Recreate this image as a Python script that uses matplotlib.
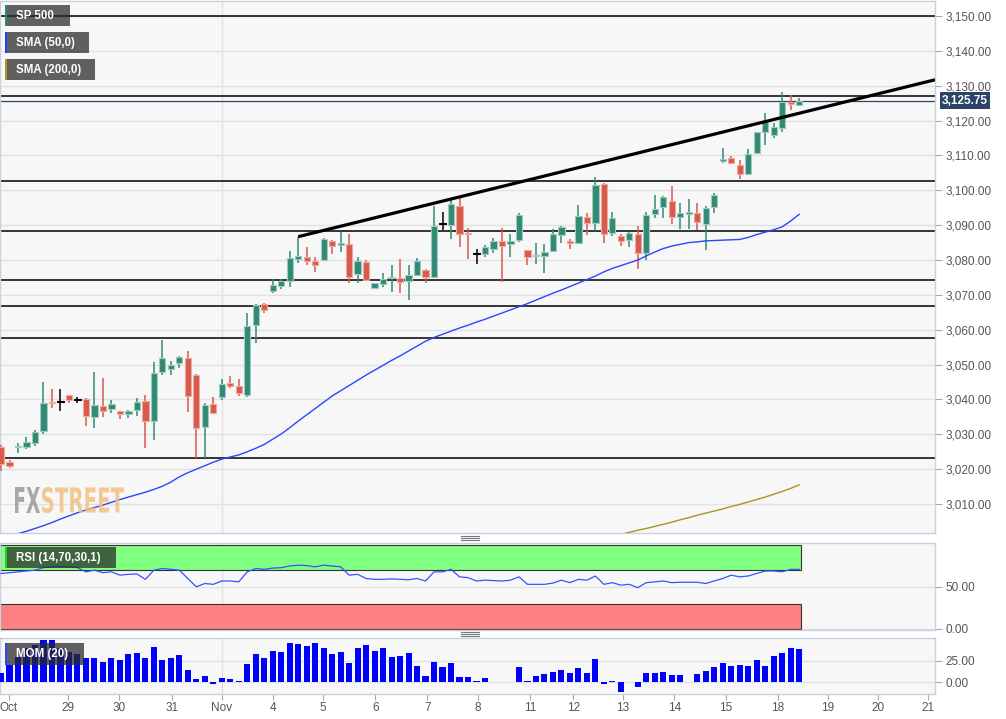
import matplotlib
matplotlib.use("Agg")
import matplotlib.pyplot as plt
from matplotlib.patches import Rectangle, PathPatch
from matplotlib.lines import Line2D
from matplotlib.textpath import TextPath
from matplotlib.font_manager import FontProperties
from matplotlib.transforms import Affine2D, blended_transform_factory
from matplotlib.ticker import FuncFormatter
import numpy as np

plt.rcParams['font.family'] = ['Liberation Sans', 'DejaVu Sans']

W, H = 1006, 719

# ---------------- data (4h candles, SP 500) ----------------
opens = [3026.5, 3022.0, 3026.3, 3026.5, 3027.6, 3031.0, 3039.4, 3039.3, 3041.2, 3039.9,
         3040.2, 3035.1, 3038.1, 3037.2, 3036.7, 3035.8, 3037.1, 3039.5, 3033.9, 3047.8,
         3048.8, 3050.4, 3052.0, 3047.0, 3032.2, 3038.7, 3040.6, 3044.8, 3044.0, 3041.3,
         3061.4, 3067.4, 3071.1, 3072.6, 3074.1, 3080.3, 3080.8, 3079.7, 3080.0, 3085.5,
         3084.2, 3084.6, 3076.0, 3079.3, 3071.9, 3073.1, 3074.8, 3074.8, 3074.1, 3075.7,
         3077.1, 3075.2, 3090.2, 3090.0, 3095.6, 3087.8, 3081.7, 3081.7, 3083.3, 3085.5,
         3084.5, 3085.7, 3082.9, 3081.1, 3081.2, 3082.7, 3087.2, 3085.5, 3084.8, 3092.4,
         3090.5, 3101.8, 3087.7, 3087.0, 3085.7, 3087.6, 3082.1, 3093.2, 3095.1, 3096.9,
         3092.2, 3093.2, 3093.6, 3090.3, 3095.1, 3108.5, 3109.2, 3107.4, 3104.6, 3110.8,
         3116.6, 3115.9, 3118.0, 3125.2, 3124.5]
highs = [3027.0, 3022.7, 3027.4, 3029.1, 3031.3, 3044.9, 3042.9, 3042.9, 3041.3, 3040.6,
         3040.4, 3047.8, 3046.1, 3039.8, 3036.8, 3037.0, 3040.3, 3041.3, 3050.7, 3057.1,
         3051.0, 3052.5, 3053.9, 3047.2, 3039.1, 3040.8, 3045.8, 3046.8, 3045.8, 3064.7,
         3067.3, 3067.6, 3074.5, 3074.5, 3082.7, 3086.7, 3083.8, 3081.0, 3086.2, 3085.7,
         3087.9, 3087.5, 3081.0, 3080.0, 3073.5, 3076.2, 3078.6, 3080.2, 3078.6, 3080.5,
         3077.3, 3095.5, 3093.9, 3097.2, 3098.0, 3089.1, 3083.2, 3084.3, 3086.2, 3089.1,
         3087.6, 3093.6, 3083.0, 3085.0, 3084.6, 3088.8, 3089.8, 3085.9, 3095.8, 3093.4,
         3103.9, 3102.2, 3093.9, 3087.5, 3088.1, 3089.7, 3093.9, 3098.6, 3098.4, 3101.2,
         3096.3, 3097.4, 3096.5, 3095.5, 3099.3, 3112.0, 3109.8, 3108.7, 3111.8, 3116.8,
         3122.1, 3119.2, 3128.3, 3127.3, 3126.4]
lows = [3019.5, 3020.4, 3024.6, 3025.7, 3026.6, 3030.0, 3037.5, 3036.8, 3039.1, 3038.9,
        3032.4, 3031.7, 3035.1, 3036.2, 3034.3, 3034.6, 3035.3, 3026.0, 3028.4, 3047.0,
        3047.0, 3048.9, 3036.5, 3023.1, 3023.1, 3036.0, 3039.9, 3043.2, 3041.1, 3040.8,
        3056.3, 3064.9, 3070.4, 3071.6, 3072.4, 3079.1, 3078.6, 3076.7, 3079.9, 3081.6,
        3082.4, 3073.3, 3073.5, 3074.1, 3071.6, 3072.4, 3070.9, 3070.6, 3068.5, 3075.4,
        3073.5, 3074.9, 3088.6, 3085.9, 3083.6, 3080.2, 3078.8, 3080.8, 3081.9, 3073.8,
        3080.8, 3085.3, 3078.6, 3078.9, 3076.2, 3082.4, 3084.8, 3083.1, 3084.6, 3087.2,
        3088.3, 3084.8, 3086.9, 3084.0, 3083.6, 3077.5, 3080.0, 3092.0, 3092.0, 3090.2,
        3088.8, 3088.8, 3088.6, 3082.9, 3093.4, 3107.7, 3107.5, 3103.2, 3104.5, 3110.6,
        3113.0, 3114.9, 3116.8, 3123.0, 3124.2]
closes = [3021.5, 3021.0, 3026.7, 3027.7, 3030.7, 3039.0, 3039.0, 3039.3, 3039.9, 3039.9,
          3035.3, 3038.4, 3036.8, 3038.7, 3035.7, 3036.7, 3039.3, 3033.8, 3047.5, 3051.8,
          3050.0, 3052.3, 3041.1, 3031.7, 3038.4, 3036.2, 3044.4, 3043.9, 3041.8, 3061.1,
          3067.1, 3065.7, 3072.8, 3074.0, 3080.5, 3081.2, 3079.8, 3078.7, 3085.9, 3084.0,
          3085.0, 3075.0, 3079.7, 3074.3, 3073.3, 3074.5, 3075.1, 3073.6, 3075.7, 3079.8,
          3075.2, 3089.9, 3090.2, 3096.0, 3087.5, 3087.4, 3081.7, 3083.6, 3085.5, 3084.1,
          3085.5, 3092.9, 3080.9, 3081.5, 3082.4, 3087.4, 3089.4, 3085.0, 3092.6, 3090.7,
          3101.5, 3087.5, 3092.1, 3085.5, 3087.8, 3081.9, 3092.9, 3094.5, 3098.0, 3092.4,
          3093.4, 3093.9, 3091.0, 3095.0, 3098.6, 3109.0, 3107.7, 3104.7, 3110.4, 3116.6,
          3119.7, 3118.3, 3125.4, 3124.8, 3125.75]

sma50 = [3000.5, 3001.0, 3001.5, 3002.2, 3003.0, 3003.8, 3004.7, 3005.7, 3006.6, 3007.5,
         3008.3, 3009.0, 3009.7, 3010.5, 3011.3, 3012.0, 3012.7, 3013.4, 3014.2, 3015.1,
         3016.3, 3017.8, 3019.0, 3020.0, 3021.0, 3022.0, 3022.9, 3023.5, 3024.1, 3025.0,
         3026.0, 3027.1, 3028.6, 3030.1, 3031.9, 3033.8, 3035.6, 3037.4, 3039.2, 3041.0,
         3042.5, 3044.0, 3045.5, 3047.0, 3048.4, 3049.8, 3051.2, 3052.5, 3053.9, 3055.3,
         3056.7, 3057.8, 3058.7, 3059.6, 3060.5, 3061.3, 3062.2, 3063.0, 3063.9, 3064.8,
         3065.7, 3066.6, 3067.5, 3068.5, 3069.5, 3070.5, 3071.4, 3072.4, 3073.4, 3074.4,
         3075.4, 3076.6, 3077.6, 3078.4, 3079.2, 3080.0, 3081.2, 3082.3, 3083.3, 3084.0,
         3084.5, 3085.0, 3085.2, 3085.5, 3085.6, 3085.7, 3085.8, 3085.9, 3086.5, 3087.3,
         3088.0, 3088.7, 3089.5, 3091.2, 3093.1]

sma200_start = 71
sma200 = [3000.0, 3000.7, 3001.3, 3001.9, 3002.5, 3003.0, 3003.6, 3004.2, 3004.8, 3005.5,
          3006.1, 3006.8, 3007.4, 3008.0, 3008.6, 3009.3, 3009.9, 3010.6, 3011.3, 3012.0,
          3012.8, 3013.6, 3014.5, 3015.5]

rsi = [66, 67, 68, 69, 70, 73, 74, 74, 74, 73,
       68, 70, 67, 68, 64, 65, 65.5, 59, 70, 72,
       71, 70, 60, 50, 54, 53, 57, 57, 56, 68,
       72, 71, 72.5, 73, 75, 76, 75.5, 74, 76, 75,
       74, 64, 65, 60, 59, 59, 59.5, 59, 58.5, 60,
       57, 68, 68, 71, 62, 61, 57, 58, 57.5, 57,
       58, 62, 53, 53, 53, 54.5, 58, 55, 59, 58,
       63, 53, 55, 52, 53, 49, 55, 56, 57, 55,
       55.5, 55.5, 55.5, 54, 57, 60, 64, 62, 63, 66,
       69, 69, 68, 71, 71]

mom = [11.3, 20.0, 30.0, 39.8, 43.7, 49.6, 49.6, 39.8, 35.9, 33.2,
       28.1, 28.8, 23.4, 28.1, 26.1, 33.2, 33.9, 28.1, 41.0, 26.1,
       28.5, 31.6, 14.4, 3.9, 7.8, -2.0, 5.4, 3.9, 1.5, 21.5,
       32.8, 28.1, 36.7, 35.9, 46.1, 45.0, 41.8, 45.7, 39.8, 33.2,
       35.5, 23.0, 39.8, 43.3, 36.7, 39.8, 30.0, 30.7, 34.7, 19.1,
       7.8, 23.8, 17.6, 22.6, 6.6, 6.6, 1.5, 4.7, 0.4, 0.0,
       0.0, 18.0, 1.5, 7.4, 9.4, 12.5, 14.4, 11.3, 17.2, 10.5,
       26.9, -2.4, 1.5, -11.0, 0.0, -5.1, 10.5, 10.5, 12.1, 8.6,
       8.2, 0.8, 9.8, 13.7, 17.6, 22.6, 19.1, 20.3, 19.1, 26.1,
       19.1, 31.2, 33.9, 40.2, 39.1]

levels = [3150.0, 3127.1, 3102.7, 3088.2, 3074.2, 3066.7, 3057.5, 3023.1]
trend_x = [35, 110.0]
trend_y = [3086.7, 3131.7]
last_price = 3125.75

tick_pos = [0.9, 7.9, 13.9, 20.1, 26.0, 32.0, 37.9, 44.1, 50.2, 56.2,
            62.3, 67.4, 73.2, 79.3, 85.4, 91.5, 97.4, 103.3, 109.2]
tick_labels = ['Oct', '29', '30', '31', 'Nov', '4', '5', '6', '7', '8',
               '11', '12', '13', '14', '15', '18', '19', '20', '21']
nov_pos = 26.0

# ---------------- figure ----------------
fig = plt.figure(figsize=(W / 100, H / 100), dpi=100)
fig.patch.set_facecolor('white')

XMIN, XMAX = -0.12, 110.0
BAND_END = 94.2
PANEL_BG = '#f7f7f7'
SPINE = '#c9d0e2'
GRID = '#e2e2e2'
LBL = '#555555'
GREEN, RED = '#338a74', '#d75a4b'
GREEN_E, RED_E = '#9fcbbf', '#eda89f'


def axes_px(x0, y0, x1, y1):
    return fig.add_axes([x0 / W, 1 - y1 / H, (x1 - x0) / W, (y1 - y0) / H])


def style(a):
    a.set_facecolor(PANEL_BG)
    for s in a.spines.values():
        s.set_color(SPINE)
        s.set_linewidth(1)
    a.set_xlim(XMIN, XMAX)
    a.yaxis.tick_right()
    a.tick_params(axis='y', length=5, width=0.8, color='#aaaaaa',
                  labelcolor=LBL, labelsize=8.5, pad=2.5)
    a.grid(axis='y', color=GRID, lw=1, zorder=0)
    a.set_axisbelow(True)
    a.axvline(nov_pos, color=GRID, lw=1, zorder=0)


ax = axes_px(0, 1, 935, 533)
ax_rsi = axes_px(0, 543, 935, 629.5)
ax_mom = axes_px(0, 638, 935, 693.5)
for a in (ax, ax_rsi, ax_mom):
    style(a)

fmt = FuncFormatter(lambda v, p: f"{v:,.2f}")

# ---- price panel ----
n = len(closes)
idx = np.arange(n)
o, h, l, c = map(np.array, (opens, highs, lows, closes))
cols = np.where(c > o, GREEN, np.where(c < o, RED, '#000000'))
ecols = np.where(c > o, GREEN_E, np.where(c < o, RED_E, '#000000'))
ax.vlines(idx, l, h, colors=cols, lw=1.1, zorder=3)
body_b = np.minimum(o, c)
body_h = np.maximum(np.abs(c - o), 0.3)
ax.bar(idx, body_h, bottom=body_b, width=0.74, color=cols, edgecolor=ecols,
       linewidth=0.8, zorder=4)

ax.hlines(levels, XMIN, XMAX, colors='black', lw=1.1, zorder=2)
ax.axhline(last_price, color='#2b4468', lw=0.9, zorder=2)
ax.plot(idx, sma50, color='#2a46ff', lw=1.0, zorder=3)
ax.plot(np.arange(sma200_start, sma200_start + len(sma200)), sma200,
        color='#a8961c', lw=1.0, zorder=3)
ax.plot(trend_x, trend_y, color='black', lw=2.3, solid_capstyle='butt', zorder=5)

ax.set_ylim(3001.7, 3154.3)
ax.set_yticks(np.arange(3010, 3151, 10))
ax.yaxis.set_major_formatter(fmt)
ax.set_xticks([])

bt = blended_transform_factory(ax.transAxes, ax.transData)
ax.text(1.0 + 7 / 935, last_price, f"{last_price:,.2f}", transform=bt, ha='left',
        va='center', color='white', fontsize=8.5, fontweight='bold', zorder=10,
        bbox=dict(boxstyle='square,pad=0.18', fc='#2b4468', ec='none'), clip_on=False)

# ---- RSI panel ----
ax_rsi.set_ylim(-1.2, 102.6)
ax_rsi.add_patch(Rectangle((XMIN, 70), BAND_END - XMIN, 30, fc='#80ff80', ec='#333333',
                           lw=0.8, zorder=1))
ax_rsi.add_patch(Rectangle((XMIN, 0), BAND_END - XMIN, 30, fc='#ff8080', ec='#333333',
                           lw=0.8, zorder=1))
ax_rsi.plot(idx, rsi, color='#3355ff', lw=0.9, zorder=3)
ax_rsi.set_yticks([0, 50])
ax_rsi.yaxis.set_major_formatter(fmt)
ax_rsi.set_xticks([])

# ---- MOM panel ----
ax_mom.set_ylim(-12.9, 51.6)
ax_mom.bar(idx, mom, width=0.72, color='#0000ff', zorder=3)
ax_mom.set_yticks([0, 25])
ax_mom.yaxis.set_major_formatter(fmt)
ax_mom.set_xticks(tick_pos)
ax_mom.set_xticklabels(tick_labels)
ax_mom.tick_params(axis='x', length=4, width=0.8, color='#aaaaaa', labelcolor=LBL,
                   labelsize=8.5, pad=2)


# ---------------- overlays in pixel coordinates ----------------
def rect_px(x0, y0, w, h, **kw):
    r = Rectangle((x0 / W, 1 - (y0 + h) / H), w / W, h / H, transform=fig.transFigure, **kw)
    fig.add_artist(r)


def label_box(x0, y0, w, h, text, stripe):
    rect_px(x0, y0, w, h, fc='#282828', alpha=0.73, ec='none', zorder=20)
    rect_px(x0, y0, 2.2, h, fc=stripe, ec='none', zorder=21)
    fig.text((x0 + 11) / W, 1 - (y0 + h / 2 + 0.5) / H, text, color='white',
             fontsize=8.3, fontweight='bold', va='center', ha='left', zorder=22)


label_box(5, 5, 65, 21, 'SP 500', '#2e8b6e')
label_box(5, 32, 84, 21, 'SMA (50,0)', '#1f3dff')
label_box(5, 59, 90, 21, 'SMA (200,0)', '#a8961c')
label_box(5, 547, 111, 21, 'RSI (14,70,30,1)', '#22cc22')
label_box(5, 643, 79, 22, 'MOM (20)', '#2a46ff')


def text_fit(s, x0, y0, x1, y1, color, alpha):
    tp = TextPath((0, 0), s, size=10, prop=FontProperties(family='DejaVu Sans', weight='bold'))
    bb = tp.get_extents()
    tr = (Affine2D().translate(-bb.x0, -bb.y0)
          .scale((x1 - x0) / bb.width, (y1 - y0) / bb.height)
          .translate(x0, H - y1).scale(1 / W, 1 / H)) + fig.transFigure
    fig.add_artist(PathPatch(tp, transform=tr, fc=color, ec='none', alpha=alpha, zorder=6))


text_fit('FX', 15, 487, 40, 513, '#9b9b9b', 0.85)
text_fit('STREET', 42, 487, 124, 513, '#f0c184', 0.85)

# panel handles
for yc in (538, 634):
    for dy in (-2, 0, 2):
        fig.add_artist(Line2D([461 / W, 479 / W], [1 - (yc + dy) / H] * 2,
                              transform=fig.transFigure, color='#777777', lw=0.8))

fig.savefig('out.png', dpi=100, facecolor='white')
